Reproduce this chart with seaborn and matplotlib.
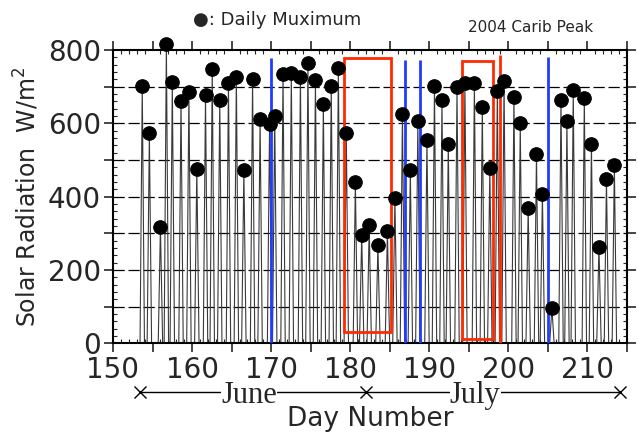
import numpy as np
import pandas as pd
import seaborn as sns
import matplotlib
matplotlib.use("Agg")
import matplotlib.pyplot as plt
import matplotlib.patches as patches
import matplotlib.transforms as mtransforms
from matplotlib.ticker import MultipleLocator, FuncFormatter

# Daily maximum: time of peak (day number) and value (W/m^2)
peak_day = [153.7, 154.6, 156.0, 156.75, 157.5, 158.6, 159.6, 160.6, 161.7, 162.55,
            163.5, 164.6, 165.6, 166.55, 167.65, 168.6, 169.8, 170.45, 171.5, 172.55,
            173.7, 174.65, 175.6, 176.6, 177.6, 178.5, 179.5, 180.65, 181.45, 182.4,
            183.5, 184.7, 185.65, 186.6, 187.6, 188.55, 189.7, 190.65, 191.6, 192.4,
            193.5, 194.5, 195.7, 196.7, 197.65, 198.6, 199.45, 200.7, 201.5, 202.5,
            203.55, 204.3, 205.5, 206.65, 207.4, 208.2, 209.6, 210.5, 211.45, 212.4,
            213.4]
peak_val = [702, 573, 317, 815, 713, 660, 685, 476, 677, 749,
            664, 710, 727, 473, 722, 611, 597, 620, 734, 736,
            727, 764, 718, 652, 703, 752, 573, 439, 295, 323,
            268, 306, 397, 626, 473, 605, 555, 702, 664, 544,
            698, 711, 711, 644, 477, 689, 715, 673, 601, 368,
            515, 406, 97, 664, 606, 690, 670, 544, 264, 448,
            485]

# radiation is zero at night
night_val = 0
record_start = 150.0

# marked events
blue_day = [170.0, 186.95, 188.85, 205.05]
blue_top = [779, 773, 773, 782]
red_box_x = [(179.2, 185.2), (194.1, 198.1)]
red_box_y = [(32, 779), (12, 771)]
red_line_day = 198.9
red_line_top = 785

month_edges = [153.4, 182.0, 214.1]
month_names = ["June", "July"]
month_label_day = [167.2, 195.8]

# build the diurnal trace: night -> peak -> night for each day
half = 0.28
t = [record_start]
v = [night_val]
for d, p in zip(peak_day, peak_val):
    t += [d - half, d, d + half]
    v += [night_val, p, night_val]
trace = pd.DataFrame({"day": t, "rad": v})
peaks = pd.DataFrame({"day": peak_day, "rad": peak_val})

sns.set_style("ticks")
plt.rcParams['font.family'] = ['DejaVu Sans']

fig = plt.figure(figsize=(6.38, 4.32), dpi=100)
ax = fig.add_axes([0.1771, 0.2053, 0.8057, 0.6790])

sns.lineplot(data=trace, x="day", y="rad", ax=ax, color="#3a3a3a", lw=0.8,
             sort=False, estimator=None)
sns.scatterplot(data=peaks, x="day", y="rad", ax=ax, s=95, color="black",
                edgecolor="black", zorder=5, clip_on=False)

ax.vlines(blue_day, 0, blue_top, colors="#1f3cff", lw=2, zorder=4)
for (x0, x1), (y0, y1) in zip(red_box_x, red_box_y):
    ax.add_patch(patches.Rectangle((x0, y0), x1 - x0, y1 - y0, fill=False,
                                   edgecolor="#ff2a00", lw=2, zorder=4))
ax.vlines(red_line_day, 0, red_line_top, colors="#ff2a00", lw=2, zorder=4)

for y in range(100, 800, 100):
    ax.axhline(y, color="black", lw=0.9, ls=(0, (9, 3)), zorder=1)

ax.set_xlim(150, 215)
ax.set_ylim(0, 800)
ax.xaxis.set_major_locator(MultipleLocator(5))
ax.xaxis.set_minor_locator(MultipleLocator(1))
ax.yaxis.set_major_locator(MultipleLocator(100))
ax.yaxis.set_minor_locator(MultipleLocator(20))
ax.xaxis.set_major_formatter(FuncFormatter(lambda x, p: f"{x:.0f}" if round(x) % 10 == 0 else ""))
ax.yaxis.set_major_formatter(FuncFormatter(lambda y, p: f"{y:.0f}" if round(y) % 200 == 0 else ""))
ax.tick_params(which="major", direction="out", length=6.5, width=1.2,
               top=True, right=True, labelsize=20, pad=2)
ax.tick_params(axis="x", which="major", pad=2.5)
ax.tick_params(which="minor", direction="in", length=3, width=0.8,
               top=True, right=True)
for s in ax.spines.values():
    s.set_linewidth(1.5)
    s.set_color("black")

ax.set_ylabel("Solar Radiation  W/m$^2$", fontsize=17, labelpad=5)
ax.set_xlabel("Day Number", fontsize=19)
ax.xaxis.set_label_coords(0.5, -0.214)

# month span markers under the axis
trans = mtransforms.blended_transform_factory(ax.transData, ax.transAxes)
yy = -0.165
ax.plot(month_edges, [yy] * len(month_edges), color="black", lw=1, marker="x",
        ms=8, mew=1, transform=trans, clip_on=False)
for name, d in zip(month_names, month_label_day):
    ax.text(d, yy, name, transform=trans, ha="center", va="center_baseline",
            fontsize=22, family="Liberation Serif",
            bbox=dict(facecolor="white", edgecolor="none", pad=0.3))

fig.text(193 / 638, 0.954, "\u25cf: Daily Muximum", fontsize=13, va="center")
fig.text(468 / 638, 0.9375, "2004 Carib Peak", fontsize=11, va="center")

fig.savefig("out.png", dpi=100)
